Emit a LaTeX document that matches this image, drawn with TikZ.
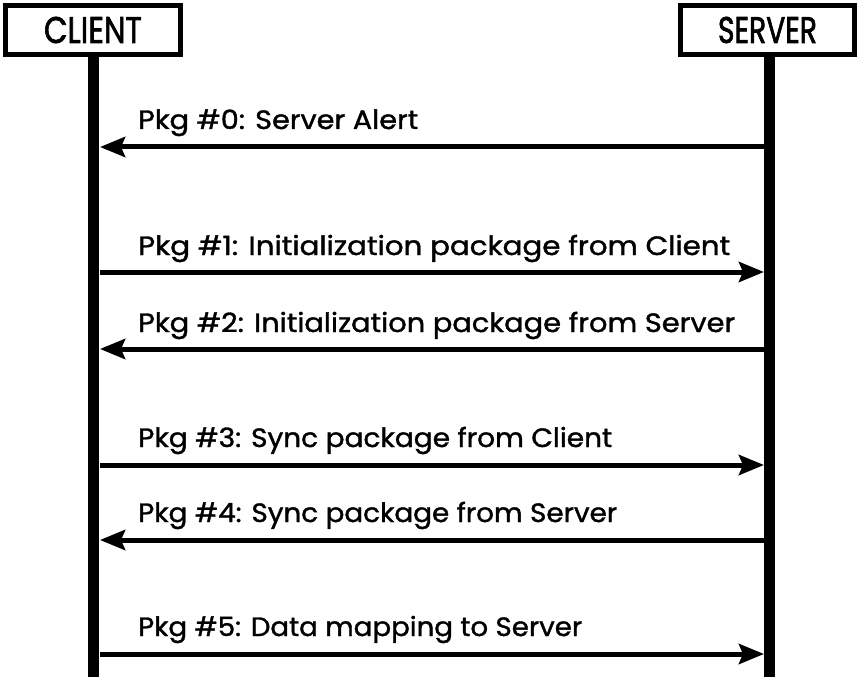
\documentclass[tikz,border=0pt]{standalone}
\usepackage{fontspec}
\setmainfont{Poppins}
\newfontfamily\labelfont{Poppins}[FakeBold=1.3]
\newfontfamily\headfont{Poppins}[FakeBold=2]
\usetikzlibrary{arrows.meta}
\newcommand{\fitw}[2]{\resizebox{#1}{\height}{#2}}
\begin{document}
\begin{tikzpicture}[x=1bp,y=-1bp,
  actorbox/.style={draw=black,line width=5bp,fill=white,rectangle,inner sep=0pt,minimum height=49bp},
  lifeline/.style={line width=11bp,black},
  msg/.style={line width=5bp,-{Stealth[length=25bp,width=20bp,inset=4bp]}},
  msglabel/.style={anchor=base west,inner sep=0pt,font=\labelfont\fontsize{26.5bp}{30bp}\selectfont},
  headlabel/.style={font=\headfont\fontsize{37bp}{40bp}\selectfont}
]
\useasboundingbox (0,0) rectangle (860,677);
% lifelines
\coordinate (cbot) at (93,677);
\coordinate (sbot) at (769,677);
\node[actorbox,minimum width=175bp,headlabel] (client) at (93,30) {\fitw{98bp}{CLIENT}};
\node[actorbox,minimum width=174bp,headlabel] (server) at (767.5,30) {\fitw{99bp}{SERVER}};
\coordinate (ctop) at (93,54.5);
\coordinate (stop) at (769,54.5);
\draw[lifeline] (ctop) -- (cbot);
\draw[lifeline] (stop) -- (sbot);
% message end points
\foreach \i/\y in {0/147,1/272,2/349,3/465,4/540,5/654}{
  \coordinate (c\i) at (100,\y);
  \coordinate (s\i) at (764,\y);
}
\draw[msg] (s0) -- (c0);
\draw[msg] (c1) -- (s1);
\draw[msg] (s2) -- (c2);
\draw[msg] (c3) -- (s3);
\draw[msg] (s4) -- (c4);
\draw[msg] (c5) -- (s5);
% labels
\node[msglabel] (l0) at (138,129) {\fitw{280bp}{Pkg \#0: Server Alert}};
\node[msglabel] (l1) at (138,255) {\fitw{592bp}{Pkg \#1: Initialization package from Client}};
\node[msglabel] (l2) at (138,332) {\fitw{597bp}{Pkg \#2: Initialization package from Server}};
\node[msglabel] (l3) at (138,447) {\fitw{474bp}{Pkg \#3: Sync package from Client}};
\node[msglabel] (l4) at (138,522) {\fitw{479bp}{Pkg \#4: Sync package from Server}};
\node[msglabel] (l5) at (138,636) {\fitw{444bp}{Pkg \#5: Data mapping to Server}};
\end{tikzpicture}
\end{document}
